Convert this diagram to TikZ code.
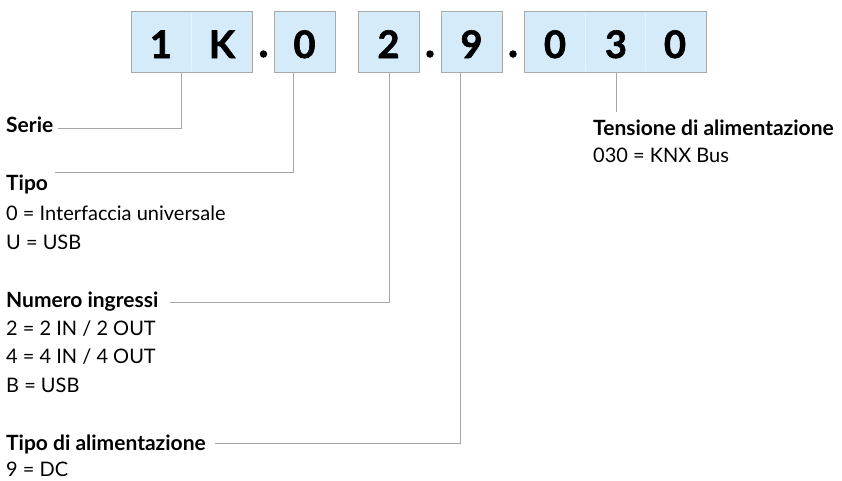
\documentclass[tikz,border=0pt]{standalone}
\usepackage{fontspec}
\setmainfont{Lato}
\newfontfamily\digitfont{Lato}[BoldFeatures={FakeBold=1.6}]
\definecolor{boxfill}{HTML}{D5EBFA}
\definecolor{boxline}{HTML}{A9A9A9}
\definecolor{connline}{HTML}{A6A6A6}
\definecolor{divline}{HTML}{E6F3FC}
\begin{document}
\begin{tikzpicture}[x=1pt,y=-1pt,
  codebox/.style={draw=boxline,fill=boxfill,line width=1pt,minimum height=61pt,inner sep=0pt,anchor=north west},
  digit/.style={font=\digitfont\fontsize{38}{40}\selectfont\bfseries,inner sep=0pt},
  dotc/.style={fill=black,circle,inner sep=0pt,minimum size=7.5pt},
  head/.style={font=\fontsize{21}{24}\selectfont\bfseries,anchor=base west,inner sep=0pt},
  desc/.style={font=\fontsize{20}{22}\selectfont,anchor=base west,inner sep=0pt},
  conn/.style={draw=connline,line width=1pt},
  divider/.style={draw=divline,line width=1pt}]
\useasboundingbox (0,0) rectangle (842,480);
% boxes
\node[codebox,minimum width=121pt] (b1) at (131,11) {};
\node[codebox,minimum width=61pt] (b2) at (274,11) {};
\node[codebox,minimum width=61pt] (b3) at (358,11) {};
\node[codebox,minimum width=61pt] (b4) at (441,11) {};
\node[codebox,minimum width=182pt] (b5) at (524,11) {};
\draw[divider] (191.5,12) -- (191.5,71);
\draw[divider] (585,12) -- (585,71);
\draw[divider] (645,12) -- (645,71);
% digits
\node[digit,anchor=base] (d1) at (161,58) {1};
\node[digit,anchor=base] (d2) at (222,58) {K};
\node[digit,anchor=base] (d3) at (304.5,58) {0};
\node[digit,anchor=base] (d4) at (388.5,58) {2};
\node[digit,anchor=base] (d5) at (471.5,58) {9};
\node[digit,anchor=base] (d6) at (555,58) {0};
\node[digit,anchor=base] (d7) at (616,58) {3};
\node[digit,anchor=base] (d8) at (675,58) {0};
% dots
\node[dotc] (p1) at (263.5,54) {};
\node[dotc] (p2) at (430,54) {};
\node[dotc] (p3) at (513,54) {};
% labels
\node[head] (serie) at (6,132) {Serie};
\node[head] (tipo) at (6,190) {Tipo};
\node[desc] (tipo1) at (6,220) {0 = Interfaccia universale};
\node[desc] (tipo2) at (6,249) {U = USB};
\node[head] (num) at (6,307) {Numero ingressi};
\node[desc] (num1) at (6,335) {2 = 2 IN / 2 OUT};
\node[desc] (num2) at (6,363) {4 = 4 IN / 4 OUT};
\node[desc] (num3) at (6,392) {B = USB};
\node[head] (alim) at (6,450) {Tipo di alimentazione};
\node[desc] (alim1) at (6,476) {9 = DC};
\node[head] (tens) at (593,135) {Tensione di alimentazione};
\node[desc] (tens1) at (593,162) {030 = KNX Bus};
% connector reference points
\coordinate (x1) at (181,0);
\coordinate (x2) at (293,0);
\coordinate (x3) at (389,0);
\coordinate (x4) at (460,0);
\coordinate (x5) at (616,0);
\coordinate (e1) at (58,128);
\coordinate (e2) at (55,172);
\coordinate (e3) at (170,302);
\coordinate (e4) at (215,443);
\coordinate (e5) at (616,112);
% connectors
\draw[conn] (b1.south -| x1) |- (e1);
\draw[conn] (b2.south -| x2) |- (e2);
\draw[conn] (b3.south -| x3) |- (e3);
\draw[conn] (b4.south -| x4) |- (e4);
\draw[conn] (b5.south -| x5) -- (e5);
\end{tikzpicture}
\end{document}
